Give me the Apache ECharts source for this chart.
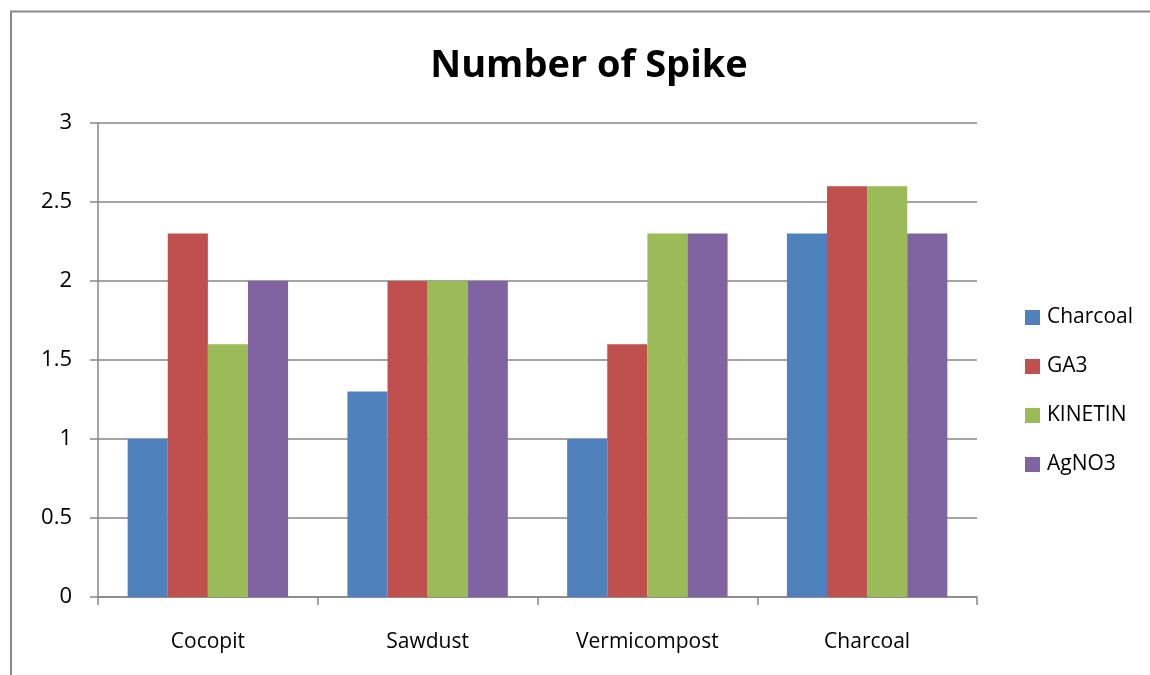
<!DOCTYPE html>
<html>
<head>
<meta charset="utf-8">
<script src="https://cdn.jsdelivr.net/npm/echarts@6/dist/echarts.min.js"></script>
<style>
  html, body { margin: 0; padding: 0; background: #fff; }
  #chart { width: 1150px; height: 675px; }
</style>
</head>
<body>
<div id="chart"></div>
<script>
// Substrates on the x axis, one bar per treatment
const categories = ['Cocopit', 'Sawdust', 'Vermicompost', 'Charcoal'];
const charcoal = [1, 1.3, 1, 2.3];
const ga3 = [2.3, 2, 1.6, 2.6];
const kinetin = [1.6, 2, 2.3, 2.6];
const agno3 = [2, 2, 2.3, 2.3];
const seriesNames = ['Charcoal', 'GA3', 'KINETIN', 'AgNO3'];
const colors = ['#4F81BD', '#C0504D', '#9BBB59', '#8064A2'];

const FONT = 'Open Sans, Liberation Sans, sans-serif';
const chart = echarts.init(document.getElementById('chart'));

const values = [charcoal, ga3, kinetin, agno3];

chart.setOption({
  animation: false,
  backgroundColor: '#ffffff',
  title: {
    text: 'Number of Spike',
    left: 584,
    top: 42,
    textAlign: 'center',
    textStyle: { fontFamily: FONT, fontSize: 38, fontWeight: 'bold', color: '#000' }
  },
  legend: {
    orient: 'vertical',
    left: 1020,
    top: 302,
    itemWidth: 15,
    itemHeight: 15,
    itemGap: 28,
    icon: 'rect',
    textStyle: { fontFamily: FONT, fontSize: 21, lineHeight: 20, color: '#000', padding: [0, 0, 0, 2] },
    data: seriesNames
  },
  grid: { left: 98, right: 173, top: 123, bottom: 78 },
  xAxis: {
    type: 'category',
    data: categories,
    axisLine: { lineStyle: { color: '#868686', width: 1.5 } },
    axisTick: { show: true, length: 8, lineStyle: { color: '#868686', width: 1.5 } },
    axisLabel: { fontFamily: FONT, fontSize: 21, color: '#000', margin: 35 }
  },
  yAxis: {
    type: 'value',
    min: 0,
    max: 3,
    interval: 0.5,
    axisLine: { show: true, lineStyle: { color: '#868686', width: 1.5 } },
    axisTick: { show: true, length: 8, lineStyle: { color: '#868686', width: 1.5 } },
    axisLabel: { fontFamily: FONT, fontSize: 22, color: '#000', margin: 26 },
    splitLine: { lineStyle: { color: '#868686', width: 1.5 } }
  },
  series: seriesNames.map((name, i) => ({
    name: name,
    type: 'bar',
    data: values[i],
    barGap: '0%',
    barCategoryGap: '27%',
    itemStyle: { color: colors[i] }
  })),
  graphic: [
    {
      type: 'polyline',
      shape: { points: [[11, 675], [11, 11.5], [1150, 11.5]] },
      style: { stroke: '#8a8a8a', lineWidth: 2, fill: null }
    }
  ]
});
</script>
</body>
</html>
